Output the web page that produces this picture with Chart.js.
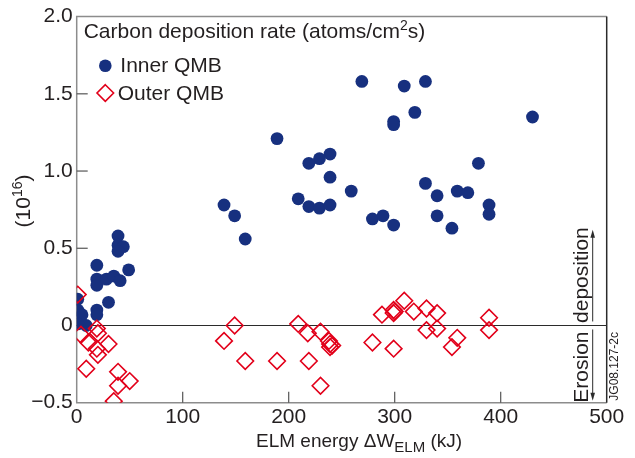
<!DOCTYPE html>
<html>
<head>
<meta charset="utf-8">
<script src="https://cdn.jsdelivr.net/npm/chart.js@4.4.0/dist/chart.umd.min.js"></script>
<style>
  html, body { margin: 0; padding: 0; background: #fff; }
  #wrap { width: 635px; height: 458px; }
</style>
</head>
<body>
<div id="wrap"><canvas id="chart" width="635" height="458"></canvas></div>
<script>
// ELM energy (kJ) vs carbon deposition rate (1e16 atoms/cm2 s)
const innerX = [430, 269, 329, 309, 319, 299, 299, 189, 239, 229, 219, 239, 259, 209, 219, 229, 239,
  139, 149, 159, 279, 289, 299, 379, 329, 340, 359, 369, 389, 389, 340, 354,
  39, 39, 44, 39, 49, 19, 19, 19, 28, 35, 41, 30, 19, 19, 1, 1, 5, 9, 1]
const innerY = [1.35, 1.58, 1.58, 1.55, 1.38, 1.32, 1.30, 1.21, 1.11, 1.08, 1.05, 0.96, 0.87, 0.82, 0.77, 0.76, 0.78,
  0.78, 0.71, 0.56, 0.69, 0.71, 0.65, 1.05, 0.92, 0.84, 0.87, 0.86, 0.78, 0.72, 0.71, 0.63,
  0.58, 0.52, 0.51, 0.48, 0.36, 0.39, 0.30, 0.26, 0.30, 0.32, 0.29, 0.15, 0.10, 0.07, 0.17, 0.10, 0.07, 0.0, 0.01]

const outerX = [1, 19, 20, 4, 11, 30, 19, 20, 9, 39, 50, 39, 35,
  149, 139, 159, 189, 209, 218, 230, 219, 230, 238, 239, 241, 239,
  279, 299, 288, 299, 299, 300, 309, 318, 330, 340, 330, 340, 359, 354, 389, 389]
const outerY = [0.20, -0.02, -0.05, -0.06, -0.11, -0.12, -0.15, -0.19, -0.28, -0.30, -0.36, -0.39, -0.49,
  0.0, -0.10, -0.23, -0.23, 0.01, -0.05, -0.04, -0.23, -0.39, -0.10, -0.12, -0.13, -0.14,
  -0.11, -0.15, 0.07, 0.10, 0.08, 0.09, 0.16, 0.09, 0.11, 0.08, -0.03, -0.02, -0.08, -0.14, 0.05, -0.03]

const xTicks = [0, 100, 200, 300, 400, 500]
const yTicks = [-0.5, 0, 0.5, 1.0, 1.5, 2.0]
const yTickLabels = ["\u22120.5", "0", "0.5", "1.0", "1.5", "2.0"]

const FONT = '"Liberation Sans", Arial, Helvetica, sans-serif'
const INK = "#231f20"
const NAVY = "#17307f"
const RED = "#e2001a"

function toPoints(xs, ys) {
  return xs.map((x, i) => ({ x: x, y: ys[i] }))
}

// draw a run of text pieces: [text, size, dy]
function drawParts(ctx, parts, x, y) {
  let cx = x
  parts.forEach(([t, size, dy]) => {
    ctx.font = `${size}px ${FONT}`
    ctx.fillText(t, cx, y + dy)
    cx += ctx.measureText(t).width
  })
}

function partsWidth(ctx, parts) {
  let w = 0
  parts.forEach(([t, size]) => {
    ctx.font = `${size}px ${FONT}`
    w += ctx.measureText(t).width
  })
  return w
}

function line(ctx, x1, y1, x2, y2) {
  ctx.beginPath()
  ctx.moveTo(x1, y1)
  ctx.lineTo(x2, y2)
  ctx.stroke()
}

const framePlugin = {
  id: "frame",
  beforeDatasetsDraw(chart) {
    const { ctx, chartArea: a, scales } = chart
    const xs = scales.x
    const ys = scales.y
    ctx.save()
    ctx.lineWidth = 1.5
    ctx.strokeStyle = "#8c8c8c"
    ctx.beginPath()
    ctx.moveTo(a.right, a.top)
    ctx.lineTo(a.left, a.top)
    ctx.lineTo(a.left, a.bottom)
    ctx.lineTo(a.right, a.bottom)
    ctx.stroke()
    ctx.strokeStyle = "#2b2b2b"
    line(ctx, a.right, a.top, a.right, a.bottom)

    // zero line
    ctx.lineWidth = 1.2
    const y0 = ys.getPixelForValue(0)
    line(ctx, a.left, y0, a.right, y0)

    // inward tick marks
    ctx.strokeStyle = "#555"
    yTicks.forEach((v) => {
      if (v === 0 || v === yTicks[0] || v === yTicks[yTicks.length - 1]) return
      const py = ys.getPixelForValue(v)
      line(ctx, a.left, py, a.left + 11, py)
    })
    xTicks.forEach((v) => {
      if (v === xTicks[0] || v === xTicks[xTicks.length - 1]) return
      const px = xs.getPixelForValue(v)
      line(ctx, px, a.bottom, px, a.bottom - 11)
    })
    ctx.restore()
  },
  afterDraw(chart) {
    const { ctx, chartArea: a, scales } = chart
    const ys = scales.y
    ctx.save()
    ctx.fillStyle = INK
    ctx.textAlign = "left"
    ctx.textBaseline = "alphabetic"

    // x axis title
    drawParts(ctx, [["ELM energy \u0394W", 19, 0], ["ELM", 15, 5], [" (kJ)", 19, 0]], 256, 447)

    // y axis title
    const yParts = [["(10", 21, 0], ["16", 14, -8], [")", 21, 0]]
    const yw = partsWidth(ctx, yParts)
    ctx.save()
    ctx.translate(30, 201)
    ctx.rotate(-Math.PI / 2)
    drawParts(ctx, yParts, -yw / 2, 0)
    ctx.restore()

    // legend
    drawParts(ctx, [["Carbon deposition rate (atoms/cm", 21, 0], ["2", 14, -8], ["s)", 21, 0]], a.left + 7, 38)
    ctx.fillStyle = NAVY
    ctx.beginPath()
    ctx.arc(105.3, 65.7, 6.3, 0, Math.PI * 2)
    ctx.fill()
    ctx.strokeStyle = RED
    ctx.lineWidth = 1.6
    ctx.beginPath()
    ctx.moveTo(105.3, 93 - 8.3)
    ctx.lineTo(105.3 + 8.3, 93)
    ctx.lineTo(105.3, 93 + 8.3)
    ctx.lineTo(105.3 - 8.3, 93)
    ctx.closePath()
    ctx.stroke()
    ctx.fillStyle = INK
    ctx.font = `21px ${FONT}`
    ctx.fillText("Inner QMB", 120.3, 72.3)
    ctx.fillText("Outer QMB", 117.7, 100)

    // erosion / deposition note
    const y0 = ys.getPixelForValue(0)
    ctx.save()
    ctx.translate(588, 0)
    ctx.rotate(-Math.PI / 2)
    ctx.font = `21px ${FONT}`
    ctx.textAlign = "left"
    ctx.fillText("deposition", -(y0 - 2.5), 0)
    ctx.textAlign = "right"
    ctx.fillText("Erosion", -(y0 + 6), 0)
    ctx.restore()

    // arrows
    ctx.strokeStyle = "#2b2b2b"
    ctx.fillStyle = "#2b2b2b"
    ctx.lineWidth = 1
    const ax = 592.7
    const upTip = ys.getPixelForValue(0.62)
    const downTip = a.bottom - 2
    line(ctx, ax, y0 - 4, ax, upTip + 6)
    line(ctx, ax, y0 + 4, ax, downTip - 6)
    ctx.beginPath()
    ctx.moveTo(ax, upTip)
    ctx.lineTo(ax - 2.3, upTip + 8)
    ctx.lineTo(ax + 2.3, upTip + 8)
    ctx.closePath()
    ctx.fill()
    ctx.beginPath()
    ctx.moveTo(ax, downTip)
    ctx.lineTo(ax - 2.3, downTip - 8)
    ctx.lineTo(ax + 2.3, downTip - 8)
    ctx.closePath()
    ctx.fill()

    // figure id
    ctx.save()
    ctx.translate(618, a.bottom - 2)
    ctx.rotate(-Math.PI / 2)
    ctx.fillStyle = INK
    ctx.font = `12px ${FONT}`
    ctx.textAlign = "left"
    ctx.fillText("JG08.127-2c", 0, 0)
    ctx.restore()

    ctx.restore()
  },
}

const ctx = document.getElementById("chart")
new Chart(ctx, {
  type: "scatter",
  data: {
    datasets: [
      {
        label: "Inner QMB",
        data: toPoints(innerX, innerY),
        pointStyle: "circle",
        pointRadius: 6.4,
        backgroundColor: NAVY,
        borderWidth: 0,
        order: 2,
        clip: 0,
      },
      {
        label: "Outer QMB",
        data: toPoints(outerX, outerY),
        pointStyle: "rectRot",
        pointRadius: 8.3,
        backgroundColor: "rgba(0,0,0,0)",
        borderColor: RED,
        borderWidth: 1.6,
        order: 1,
        clip: 0,
      },
    ],
  },
  options: {
    responsive: false,
    animation: false,
    events: [],
    layout: { padding: { top: 12, right: 28.3, left: 0, bottom: 0 } },
    plugins: {
      legend: { display: false },
      tooltip: { enabled: false },
    },
    scales: {
      x: {
        type: "linear",
        min: 0,
        max: 500,
        afterBuildTicks: (s) => {
          s.ticks = xTicks.map((v) => ({ value: v }))
        },
        afterFit: (s) => {
          s.height = 55.3
        },
        ticks: {
          callback: (v) => String(v),
          font: { family: FONT, size: 21 },
          color: INK,
          padding: 2,
          maxRotation: 0,
          autoSkip: false,
        },
        grid: { display: false, drawTicks: false },
        border: { display: false },
      },
      y: {
        type: "linear",
        min: -0.5,
        max: 2.0,
        afterBuildTicks: (s) => {
          s.ticks = yTicks.map((v) => ({ value: v }))
        },
        afterFit: (s) => {
          s.width = 76.7
        },
        ticks: {
          callback: (v, i) => yTickLabels[i],
          font: { family: FONT, size: 21 },
          color: INK,
          padding: 4,
          autoSkip: false,
        },
        grid: { display: false, drawTicks: false },
        border: { display: false },
      },
    },
  },
  plugins: [framePlugin],
})
</script>
</body>
</html>
